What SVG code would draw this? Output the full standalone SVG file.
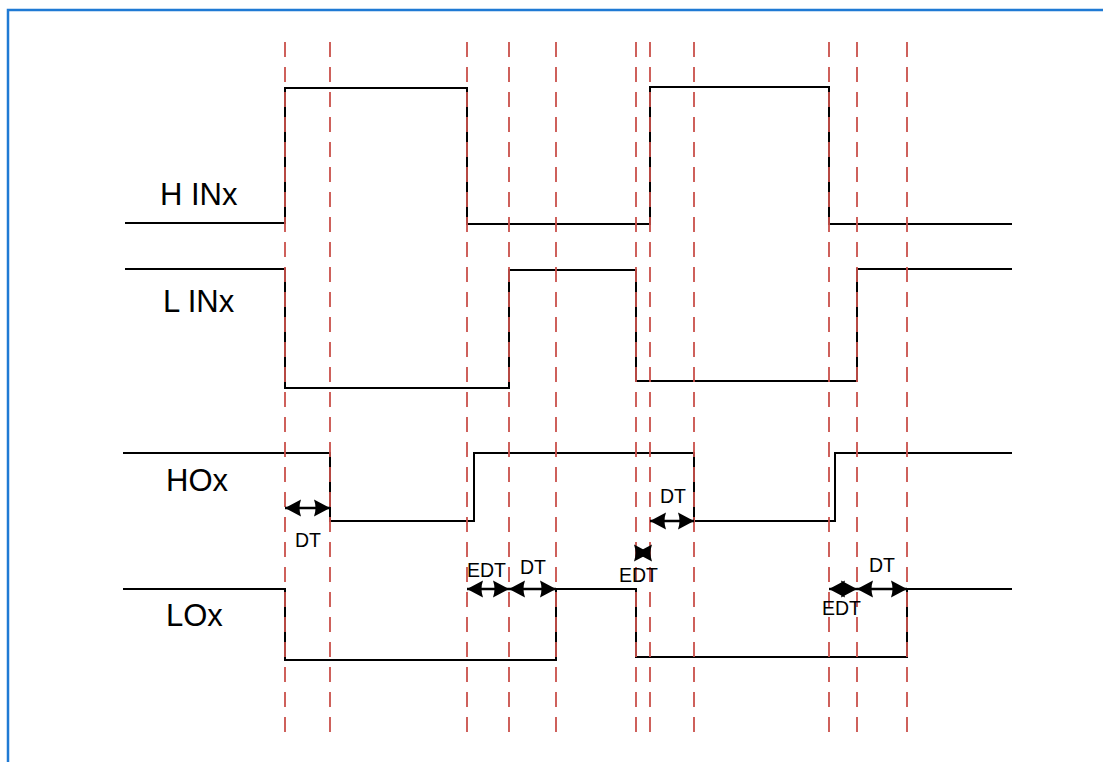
<svg xmlns="http://www.w3.org/2000/svg" width="1103" height="762" viewBox="0 0 1103 762">
<defs>
<style>
.sig{fill:none;stroke:#000;stroke-width:2;stroke-linejoin:miter}
.grid{stroke:#c9504a;stroke-width:1.8;stroke-dasharray:15 10}
.lbl{font-family:"Liberation Sans",Arial,sans-serif;font-size:31px;fill:#000}
.small{font-family:"Liberation Sans",Arial,sans-serif;font-size:19.5px;fill:#000}
.arr{stroke:#000;stroke-width:2.4;marker-start:url(#ah);marker-end:url(#ah)}
</style>
<marker id="ah" markerUnits="userSpaceOnUse" markerWidth="20" markerHeight="20" viewBox="-18 -10 20 20" refX="0" refY="0" orient="auto-start-reverse">
<path d="M0,0 L-16,-8.5 Q-13,0 -16,8.5 Z" fill="#000"/>
</marker>
</defs>
<rect x="0" y="0" width="1103" height="762" fill="#fff"/>
<rect id="frame" x="8" y="10" width="1100" height="760" fill="none" stroke="#1f7ad4" stroke-width="2.5"/>

<g id="signals">
<g id="h-in">
<polyline class="sig" points="125,223 285,223 285,88 467,88 467,224 650,224 650,87 829,87 829,224 1012,224"/>
<text class="lbl" x="160" y="205">H INx</text>
</g>
<g id="l-in">
<polyline class="sig" points="125,269 285,269 285,388 509,388 509,270 636,270 636,381 857,381 857,269 1012,269"/>
<text class="lbl" x="163" y="312">L INx</text>
</g>
<g id="ho">
<polyline class="sig" points="123,453 330,453 330,521 474,521 474,453 694,453 694,521 835,521 835,453 1012,453"/>
<text class="lbl" x="166" y="491">HOx</text>
</g>
<g id="lo">
<polyline class="sig" points="123,589 285,589 285,660 556,660 556,589 636,589 636,657 907,657 907,589 1012,589"/>
<text class="lbl" x="166" y="626">LOx</text>
</g>
</g>

<g id="gridlines">
<line class="grid" x1="285" y1="42" x2="285" y2="740"/>
<line class="grid" x1="330" y1="42" x2="330" y2="740"/>
<line class="grid" x1="467" y1="42" x2="467" y2="740"/>
<line class="grid" x1="509" y1="42" x2="509" y2="740"/>
<line class="grid" x1="556" y1="42" x2="556" y2="740"/>
<line class="grid" x1="636" y1="42" x2="636" y2="740"/>
<line class="grid" x1="650" y1="42" x2="650" y2="740"/>
<line class="grid" x1="694" y1="42" x2="694" y2="740"/>
<line class="grid" x1="829" y1="42" x2="829" y2="740"/>
<line class="grid" x1="857" y1="42" x2="857" y2="740"/>
<line class="grid" x1="907" y1="42" x2="907" y2="740"/>
</g>

<g id="connectors">
<line class="arr" x1="285" y1="508" x2="330" y2="508"/>
<line class="arr" x1="467" y1="589" x2="509" y2="589"/>
<line class="arr" x1="509" y1="589" x2="556" y2="589"/>
<line class="arr" x1="650" y1="521" x2="694" y2="521"/>
<line class="arr" x1="636" y1="553" x2="650" y2="553"/>
<line class="arr" x1="829" y1="589" x2="857" y2="589"/>
<line class="arr" x1="857" y1="589" x2="907" y2="589"/>
</g>

<g id="annotations">
<text class="small" x="295" y="547">DT</text>
<text class="small" x="467" y="577">EDT</text>
<text class="small" x="520" y="574">DT</text>
<text class="small" x="660" y="503">DT</text>
<text class="small" x="619" y="582">EDT</text>
<text class="small" x="822" y="615">EDT</text>
<text class="small" x="869" y="572">DT</text>
</g>
</svg>
